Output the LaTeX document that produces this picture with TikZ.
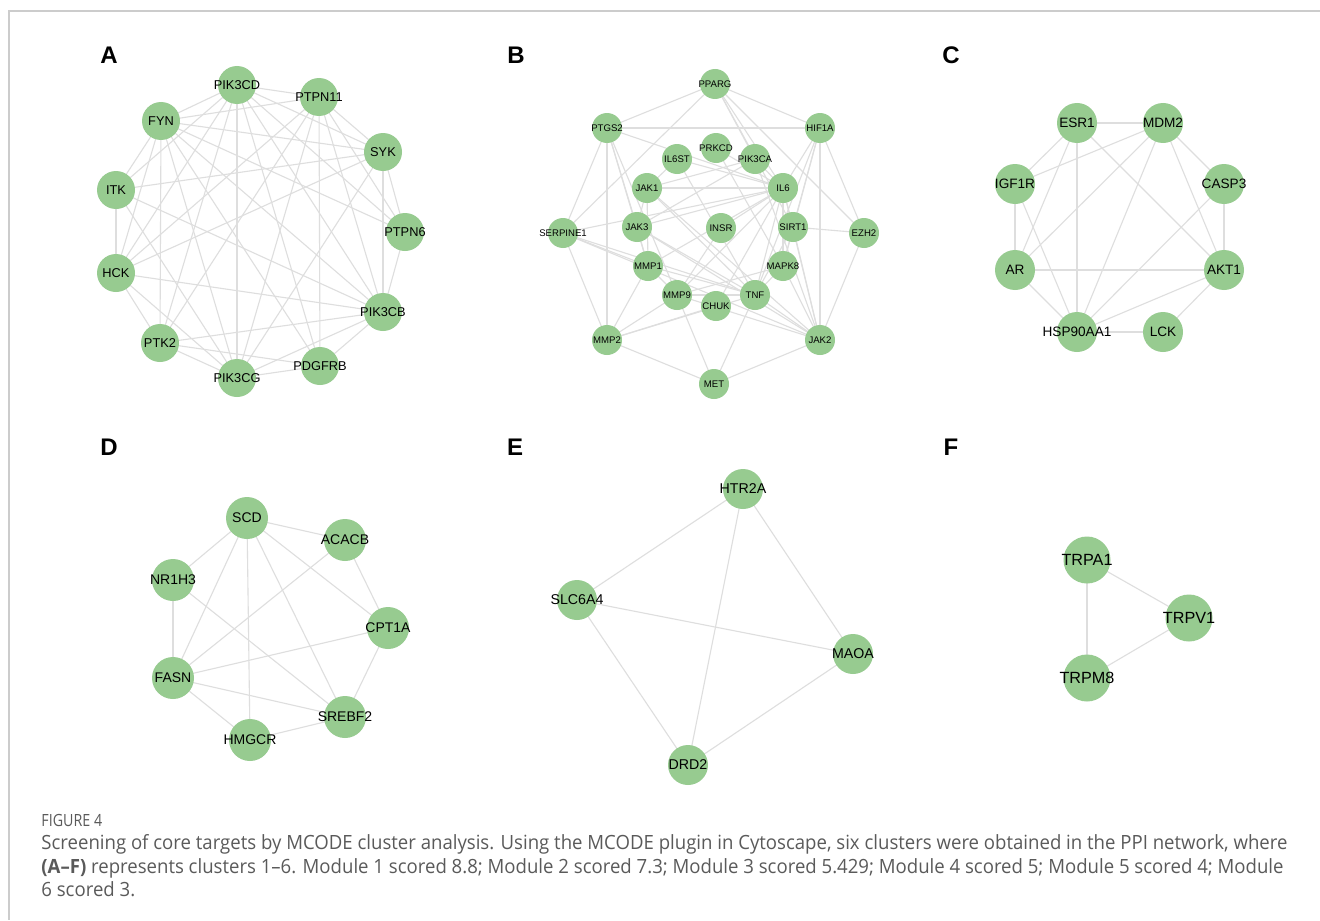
\documentclass[tikz,border=0pt]{standalone}
\usepackage{fontspec}
\setmainfont{Liberation Sans}
\newfontfamily\capfont{Open Sans}
\definecolor{nodegreen}{HTML}{97CB90}
\definecolor{edgegray}{HTML}{DEDEDE}
\definecolor{framegray}{HTML}{CCCCCC}
\definecolor{capgray}{HTML}{5A5A5A}
\pgfdeclarelayer{bg}
\pgfsetlayers{bg,main}
\newcommand\zw[1]{\makebox[0pt]{#1}}
\newcommand\capsize{\fontsize{9.8}{11}\selectfont}
\newlength\capw
\tikzset{
  gnode/.style={circle, fill=nodegreen, inner sep=0pt, text=black},
  nA/.style={gnode, minimum size=19pt, font=\fontsize{6.4}{7}\selectfont},
  nB/.style={gnode, minimum size=15pt, font=\fontsize{4.8}{5}\selectfont},
  nC/.style={gnode, minimum size=20pt, font=\fontsize{6.8}{7}\selectfont},
  nD/.style={gnode, minimum size=21pt, font=\fontsize{7}{8}\selectfont},
  nE/.style={gnode, minimum size=20pt, font=\fontsize{7.1}{8}\selectfont},
  nF/.style={gnode, minimum size=23.5pt, font=\fontsize{8.1}{9}\selectfont},
  ppi/.style={draw=edgegray, line width=0.55pt},
  plabel/.style={font=\bfseries\fontsize{12}{14}\selectfont, inner sep=0pt},
  capline/.style={anchor=base west, inner sep=0pt, text=capgray},
}
\begin{document}
\settowidth\capw{\capfont\capsize Screening of core targets by MCODE cluster analysis. Using the MCODE plugin in Cytoscape, six clusters were obtained in the PPI network, where}%
\pgfmathsetmacro\capfac{623/\capw}%
\begin{tikzpicture}[x=0.5pt,y=-0.5pt]
\useasboundingbox (0,0) rectangle (1320,920);
% panel letters
\node[plabel] (LA) at (109,55) {A};
\node[plabel] (LB) at (516,55) {B};
\node[plabel] (LC) at (951,55) {C};
\node[plabel] (LD) at (109,447) {D};
\node[plabel] (LE) at (515,447) {E};
\node[plabel] (LF) at (951,447) {F};
% ---------- A
\node[nA] (aCD) at (237,85) {\zw{PIK3CD}};
\node[nA] (aP11) at (319,97) {\zw{PTPN11}};
\node[nA] (aFYN) at (161,121) {\zw{FYN}};
\node[nA] (aSYK) at (383,152) {\zw{SYK}};
\node[nA] (aITK) at (116,190) {\zw{ITK}};
\node[nA] (aP6) at (405,232) {\zw{PTPN6}};
\node[nA] (aHCK) at (116,273) {\zw{HCK}};
\node[nA] (aCB) at (383,312) {\zw{PIK3CB}};
\node[nA] (aPTK2) at (160,343) {\zw{PTK2}};
\node[nA] (aPD) at (320,366) {\zw{PDGFRB}};
\node[nA] (aCG) at (237,378) {\zw{PIK3CG}};
% ---------- B
\node[nB] (bPPARG) at (715,84) {\zw{PPARG}};
\node[nB] (bPTGS2) at (607,128) {\zw{PTGS2}};
\node[nB] (bHIF1A) at (820,128) {\zw{HIF1A}};
\node[nB] (bPRKCD) at (716,148) {\zw{PRKCD}};
\node[nB] (bIL6ST) at (677,159) {\zw{IL6ST}};
\node[nB] (bPIK3CA) at (755,159) {\zw{PIK3CA}};
\node[nB] (bJAK1) at (647,188) {\zw{JAK1}};
\node[nB] (bIL6) at (783,188) {\zw{IL6}};
\node[nB] (bSERPINE1) at (563,233) {\zw{SERPINE1}};
\node[nB] (bJAK3) at (637,227) {\zw{JAK3}};
\node[nB] (bINSR) at (721,228) {\zw{INSR}};
\node[nB] (bSIRT1) at (793,227) {\zw{SIRT1}};
\node[nB] (bEZH2) at (864,233) {\zw{EZH2}};
\node[nB] (bMMP1) at (648,266) {\zw{MMP1}};
\node[nB] (bMAPK8) at (783,266) {\zw{MAPK8}};
\node[nB] (bMMP9) at (677,295) {\zw{MMP9}};
\node[nB] (bCHUK) at (716,306) {\zw{CHUK}};
\node[nB] (bTNF) at (755,295) {\zw{TNF}};
\node[nB] (bMMP2) at (607,340) {\zw{MMP2}};
\node[nB] (bJAK2) at (820,340) {\zw{JAK2}};
\node[nB] (bMET) at (714,384) {\zw{MET}};
% ---------- C
\node[nC] (cESR1) at (1077,123) {\zw{ESR1}};
\node[nC] (cMDM2) at (1163,123) {\zw{MDM2}};
\node[nC] (cIGF1R) at (1015,184) {\zw{IGF1R}};
\node[nC] (cCASP3) at (1224,184) {\zw{CASP3}};
\node[nC] (cAR) at (1015,270) {\zw{AR}};
\node[nC] (cAKT1) at (1224,270) {\zw{AKT1}};
\node[nC] (cHSP) at (1077,332) {\zw{HSP90AA1}};
\node[nC] (cLCK) at (1163,332) {\zw{LCK}};
% ---------- D
\node[nD] (dSCD) at (247,518) {\zw{SCD}};
\node[nD] (dACACB) at (345,540) {\zw{ACACB}};
\node[nD] (dNR1H3) at (173,580) {\zw{NR1H3}};
\node[nD] (dCPT1A) at (388,628) {\zw{CPT1A}};
\node[nD] (dFASN) at (173,678) {\zw{FASN}};
\node[nD] (dSREBF2) at (345,717) {\zw{SREBF2}};
\node[nD] (dHMGCR) at (250,740) {\zw{HMGCR}};
% ---------- E
\node[nE] (eHTR2A) at (743,489) {\zw{HTR2A}};
\node[nE] (eSLC6A4) at (577,600) {\zw{SLC6A4}};
\node[nE] (eMAOA) at (853,654) {\zw{MAOA}};
\node[nE] (eDRD2) at (688,765) {\zw{DRD2}};
% ---------- F
\node[nF] (fTRPA1) at (1087,560) {\zw{TRPA1}};
\node[nF] (fTRPV1) at (1189,618) {\zw{TRPV1}};
\node[nF] (fTRPM8) at (1087,678) {\zw{TRPM8}};
% ---------- caption
\node[capline] (cap0) at (41,826) {\scalebox{0.85}[1]{\capfont\fontsize{8.4}{9}\selectfont FIGURE 4}};
\node[capline] (cap1) at (41,849) {\scalebox{\capfac}[1]{\capfont\capsize Screening of core targets by MCODE cluster analysis. Using the MCODE plugin in Cytoscape, six clusters were obtained in the PPI network, where}};
\node[capline] (cap2) at (41,873) {\scalebox{\capfac}[1]{\capfont\capsize\textbf{(A–F)} represents clusters 1–6. Module 1 scored 8.8; Module 2 scored 7.3; Module 3 scored 5.429; Module 4 scored 5; Module 5 scored 4; Module}};
\node[capline] (cap3) at (41,896) {\scalebox{\capfac}[1]{\capfont\capsize 6 scored 3.}};
% ---------- background: frame and edges
\begin{pgfonlayer}{bg}
\fill[white] (0,0) rectangle (1320,920);
\coordinate (fr1) at (1320,11);
\coordinate (fr2) at (9,11);
\coordinate (fr3) at (9,920);
\draw[framegray, line width=0.8pt] (fr1) -- (fr2) -- (fr3);
\foreach \u/\v in {aCD/aP11,aCD/aSYK,aCD/aP6,aCD/aCB,aCD/aPD,aCD/aCG,aCD/aPTK2,aCD/aHCK,aCD/aITK,aCD/aFYN,
  aP11/aSYK,aP11/aP6,aP11/aCB,aP11/aPD,aP11/aCG,aP11/aPTK2,aP11/aHCK,aP11/aFYN,
  aSYK/aP6,aSYK/aCB,aSYK/aCG,aSYK/aHCK,aSYK/aITK,aSYK/aFYN,
  aP6/aCB,aP6/aFYN,
  aCB/aPD,aCB/aCG,aCB/aPTK2,aCB/aHCK,aCB/aITK,aCB/aFYN,
  aPD/aCG,aPD/aPTK2,aPD/aFYN,
  aCG/aPTK2,aCG/aHCK,aCG/aITK,aCG/aFYN,
  aPTK2/aHCK,aPTK2/aFYN,
  aHCK/aITK,aHCK/aFYN,
  aITK/aFYN}
  \draw[ppi] (\u.center) -- (\v.center);
\foreach \u/\v in {bPPARG/bPTGS2,bPPARG/bHIF1A,bPPARG/bSERPINE1,bPPARG/bPIK3CA,bPPARG/bIL6,bPPARG/bSIRT1,bPPARG/bEZH2,
  bPTGS2/bHIF1A,bPTGS2/bSERPINE1,bPTGS2/bMMP2,bPTGS2/bJAK3,bPTGS2/bMMP1,bPTGS2/bMMP9,bPTGS2/bIL6,
  bHIF1A/bEZH2,bHIF1A/bJAK2,bHIF1A/bIL6,bHIF1A/bSIRT1,bHIF1A/bMAPK8,bHIF1A/bTNF,
  bPRKCD/bIL6,bPRKCD/bMAPK8,
  bIL6ST/bJAK1,bIL6ST/bIL6,bIL6ST/bTNF,
  bPIK3CA/bIL6,bPIK3CA/bJAK1,bPIK3CA/bJAK3,bPIK3CA/bJAK2,
  bJAK1/bJAK3,bJAK1/bIL6,bJAK1/bTNF,bJAK1/bJAK2,bJAK1/bMMP1,
  bIL6/bSERPINE1,bIL6/bJAK3,bIL6/bMMP1,bIL6/bMMP9,bIL6/bCHUK,bIL6/bTNF,bIL6/bMAPK8,bIL6/bSIRT1,bIL6/bJAK2,
  bSERPINE1/bMMP2,bSERPINE1/bMMP1,bSERPINE1/bTNF,bSERPINE1/bJAK2,
  bJAK3/bMMP1,bJAK3/bTNF,bJAK3/bJAK2,
  bINSR/bIL6,bINSR/bMMP9,
  bSIRT1/bEZH2,bSIRT1/bMAPK8,bSIRT1/bJAK2,bSIRT1/bTNF,
  bEZH2/bJAK2,
  bMMP1/bMMP9,bMMP1/bMMP2,bMMP1/bTNF,
  bMAPK8/bTNF,bMAPK8/bJAK2,bMAPK8/bMMP9,
  bMMP9/bTNF,bMMP9/bMMP2,bMMP9/bMET,bMMP9/bJAK2,
  bCHUK/bMMP2,
  bTNF/bMMP2,bTNF/bMET,bTNF/bJAK2,
  bMMP2/bMET,bMET/bJAK2}
  \draw[ppi] (\u.center) -- (\v.center);
\foreach \u/\v in {cESR1/cMDM2,cESR1/cIGF1R,cESR1/cAR,cESR1/cHSP,cESR1/cAKT1,
  cMDM2/cIGF1R,cMDM2/cAR,cMDM2/cHSP,cMDM2/cAKT1,cMDM2/cCASP3,
  cIGF1R/cAR,cIGF1R/cHSP,cAR/cAKT1,cAR/cHSP,cCASP3/cAKT1,cCASP3/cHSP,
  cAKT1/cHSP,cAKT1/cLCK,cHSP/cLCK}
  \draw[ppi] (\u.center) -- (\v.center);
\foreach \u/\v in {dSCD/dACACB,dSCD/dNR1H3,dSCD/dFASN,dSCD/dHMGCR,dSCD/dSREBF2,dSCD/dCPT1A,
  dACACB/dCPT1A,dACACB/dFASN,dNR1H3/dFASN,dNR1H3/dSREBF2,dCPT1A/dFASN,dCPT1A/dSREBF2,
  dFASN/dSREBF2,dFASN/dHMGCR,dHMGCR/dSREBF2}
  \draw[ppi] (\u.center) -- (\v.center);
\foreach \u/\v in {eHTR2A/eSLC6A4,eHTR2A/eDRD2,eHTR2A/eMAOA,eSLC6A4/eMAOA,eSLC6A4/eDRD2,eDRD2/eMAOA}
  \draw[ppi] (\u.center) -- (\v.center);
\foreach \u/\v in {fTRPA1/fTRPV1,fTRPA1/fTRPM8,fTRPV1/fTRPM8}
  \draw[ppi] (\u.center) -- (\v.center);
\end{pgfonlayer}
\end{tikzpicture}
\end{document}
